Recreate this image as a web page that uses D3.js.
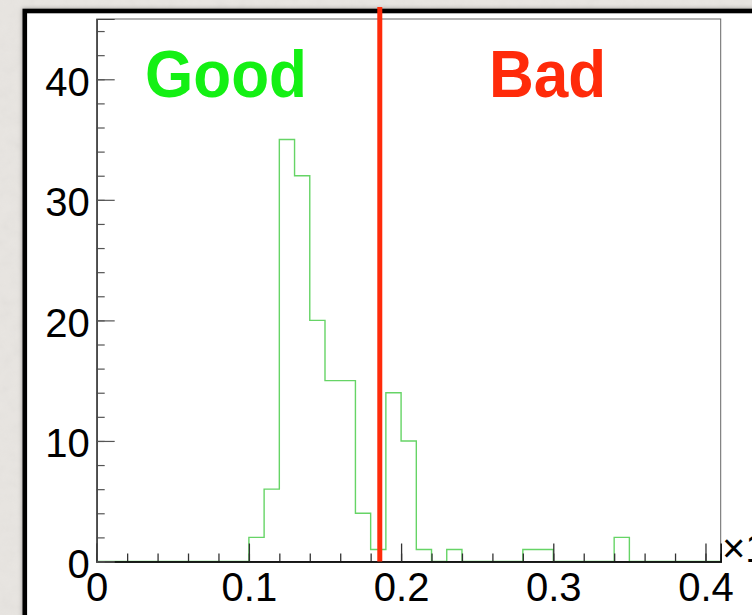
<!DOCTYPE html>
<html>
<head>
<meta charset="utf-8">
<script src="https://cdn.jsdelivr.net/npm/d3@7/dist/d3.min.js"></script>
<style>
  html, body { margin: 0; padding: 0; background: #e8e5e1; overflow: hidden; }
  svg { display: block; }
  text { font-family: "Liberation Sans", Helvetica, Arial, sans-serif; }
</style>
</head>
<body>
<div id="chart"></div>
<script>
// histogram bins: low edges, width 0.01
var binEdges = d3.range(0, 41).map(function (i) { return +(i * 0.01).toFixed(2); });
var binCounts = [
  0, 0, 0, 0, 0, 0, 0, 0, 0, 0,
  2, 6, 35, 32, 20, 15, 15, 4, 1, 14,
  10, 1, 0, 1, 0, 0, 0, 0, 1, 1,
  0, 0, 0, 0, 2, 0, 0, 0, 0, 0,
  0
];
var binWidth = 0.01;
var cutValue = 0.186;
var xTicks = [0, 0.1, 0.2, 0.3, 0.4];
var xMinorTicks = d3.range(0, 21).map(function (i) { return +(i * 0.02).toFixed(2); });
var yTicks = [0, 10, 20, 30, 40];
var yMinorTicks = d3.range(0, 23).map(function (i) { return i * 2; });
var regionLabels = ["Good", "Bad"];

var width = 752;
var height = 615;
var margin = {left: 96.7, right: 31.3, top: 19, bottom: 53.5};

var svg = d3.select("#chart").append("svg")
  .attr("width", width)
  .attr("height", height);

// paper-like background
var defs = svg.append("defs");
var paper = defs.append("filter").attr("id", "paper");
paper.append("feTurbulence")
  .attr("type", "fractalNoise")
  .attr("baseFrequency", 0.08)
  .attr("numOctaves", 3)
  .attr("seed", 4);
paper.append("feColorMatrix")
  .attr("type", "saturate")
  .attr("values", 0);

var shadow = defs.append("filter").attr("id", "shadow")
  .attr("x", "-5%").attr("y", "-5%").attr("width", "110%").attr("height", "110%");
shadow.append("feDropShadow")
  .attr("dx", 0).attr("dy", 0)
  .attr("stdDeviation", 2)
  .attr("flood-color", "#000")
  .attr("flood-opacity", 0.35);

svg.append("rect")
  .attr("width", width).attr("height", height)
  .attr("fill", "#e8e5e1");
svg.append("rect")
  .attr("width", width).attr("height", height)
  .attr("filter", "url(#paper)")
  .attr("opacity", 0.07);

// canvas with thick black border
svg.append("rect")
  .attr("x", 24.8).attr("y", 11)
  .attr("width", 900).attr("height", 800)
  .attr("fill", "#fff")
  .attr("stroke", "#000")
  .attr("stroke-width", 4.6)
  .attr("filter", "url(#shadow)");

var x = d3.scaleLinear()
  .domain([0, 0.41])
  .range([margin.left, width - margin.right]);

var y = d3.scaleLinear()
  .domain([0, 45])
  .range([height - margin.bottom, margin.top]);

// frame
svg.append("rect")
  .attr("x", x(0)).attr("y", y(45))
  .attr("width", x(0.41) - x(0)).attr("height", y(0) - y(45))
  .attr("fill", "none")
  .attr("stroke", "#666")
  .attr("stroke-width", 1);

// histogram outline
var steps = [[x(0), y(0)]];
binEdges.forEach(function (e, i) {
  steps.push([x(e), y(binCounts[i])]);
  steps.push([x(e + binWidth), y(binCounts[i])]);
});
steps.push([x(0.41), y(0)]);

svg.append("path")
  .attr("d", d3.line()(steps))
  .attr("fill", "none")
  .attr("stroke", "#66d466")
  .attr("stroke-width", 1.4);

// x axis
var xMinor = svg.append("g")
  .attr("transform", "translate(0," + y(0) + ")")
  .call(d3.axisBottom(x).tickValues(xMinorTicks).tickSize(-8).tickFormat(""));
var xAxis = svg.append("g")
  .attr("transform", "translate(0," + y(0) + ")")
  .call(d3.axisBottom(x).tickValues(xTicks).tickSize(-18).tickPadding(11)
    .tickFormat(function (d) { return d === 0 ? "0" : d3.format(".1f")(d); }));

// y axis
var yMinor = svg.append("g")
  .attr("transform", "translate(" + x(0) + ",0)")
  .call(d3.axisLeft(y).tickValues(yMinorTicks).tickSize(-8).tickFormat(""));
var yAxis = svg.append("g")
  .attr("transform", "translate(" + x(0) + ",0)")
  .call(d3.axisLeft(y).tickValues(yTicks).tickSize(-18).tickPadding(7));

[xMinor, xAxis].forEach(function (g) {
  g.select(".domain").attr("stroke", "#111").attr("stroke-width", 1.5);
  g.selectAll(".tick line").attr("stroke", "#333").attr("stroke-width", 1.3);
});
[yMinor, yAxis].forEach(function (g) {
  g.select(".domain").attr("stroke", "#444").attr("stroke-width", 1.2);
  g.selectAll(".tick line").attr("stroke", "#555").attr("stroke-width", 1.2);
});
[xAxis, yAxis].forEach(function (g) {
  g.selectAll("text")
    .attr("font-family", "Liberation Sans, Helvetica, Arial, sans-serif")
    .attr("font-size", 40)
    .attr("fill", "#000");
});
yAxis.selectAll("text").attr("dy", "0.4em");

// exponent marker at the end of the x axis
svg.append("text")
  .attr("x", 722)
  .attr("y", 562)
  .attr("font-size", 40)
  .attr("fill", "#000")
  .text("×10");

// cut line
svg.append("line")
  .attr("x1", x(cutValue)).attr("x2", x(cutValue))
  .attr("y1", 7).attr("y2", y(0))
  .attr("stroke", "#ff2b0a")
  .attr("stroke-width", 5);

// region labels
var labelPos = [[145, 97, "#14f014"], [489, 97, "#ff2b0a"]];
regionLabels.forEach(function (t, i) {
  svg.append("text")
    .attr("transform", "translate(" + labelPos[i][0] + "," + labelPos[i][1] + ") scale(0.94,1)")
    .attr("font-size", 66)
    .attr("font-weight", "bold")
    .attr("fill", labelPos[i][2])
    .text(t);
});
</script>
</body>
</html>
